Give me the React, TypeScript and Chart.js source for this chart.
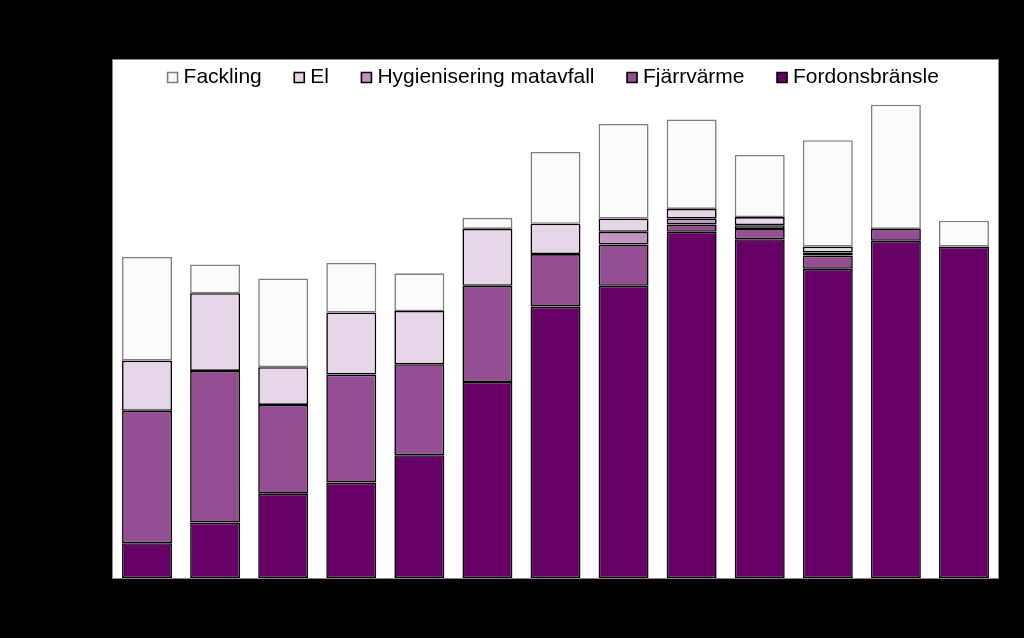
import React, { useEffect, useRef } from "react";
import { Chart, registerables } from "chart.js";

Chart.register(...registerables);

const categories = ["2005", "2006", "2007", "2008", "2009", "2010", "2011", "2012", "2013", "2014", "2015", "2016", "2017"];

const fordonsbransle = [47, 75, 114, 129, 166, 265, 367, 395, 468, 458, 418, 456, 448];
const fjarrvarme = [179, 205, 120, 146, 123, 130, 71, 56, 10, 14, 18, 16, 0];
const hygienisering = [0, 0, 0, 0, 0, 0, 0, 17, 8, 5, 4, 0, 0];
const el = [68, 105, 51, 84, 72, 77, 41, 18, 13, 11, 8, 0, 0];
const fackling = [140, 39, 120, 67, 51, 15, 97, 128, 121, 84, 144, 168, 35];

const Y_MAX = 649;

const plotBackground = {
  id: "plotBackground",
  beforeDraw(chart: any) {
    const { ctx, chartArea } = chart;
    ctx.save();
    ctx.fillStyle = "#000000";
    ctx.fillRect(0, 0, chart.width, chart.height);
    const top = 60;
    ctx.fillStyle = "#ffffff";
    ctx.fillRect(chartArea.left, top, chartArea.right - chartArea.left, chartArea.bottom - top);
    ctx.strokeStyle = "#8a8a8a";
    ctx.lineWidth = 1;
    ctx.strokeRect(chartArea.left - 0.5, top - 0.5, chartArea.right - chartArea.left + 1, chartArea.bottom - top + 1);
    ctx.restore();
  },
};

export default function App() {
  const ref = useRef<HTMLCanvasElement>(null);

  useEffect(() => {
    document.body.style.margin = "0";
    document.body.style.background = "#000";
    const canvas = ref.current;
    if (!canvas) return;
    const mk = (label: string, data: number[], bg: string, border: string) => ({
      label,
      data,
      backgroundColor: bg,
      borderColor: border,
      borderWidth: 1.6,
      borderSkipped: false as const,
      pointStyle: "rect" as const,
    });
    const chart = new Chart(canvas, {
      type: "bar",
      data: {
        labels: categories,
        datasets: [
          mk("Fordonsbränsle", fordonsbransle, "#660066", "#000000"),
          mk("Fjärrvärme", fjarrvarme, "#944e92", "#000000"),
          mk("Hygienisering matavfall", hygienisering, "#c393c1", "#000000"),
          mk("El", el, "#e7d6e7", "#000000"),
          mk("Fackling", fackling, "#fbfbfb", "#7f7f7f"),
        ],
      },
      options: {
        responsive: false,
        animation: false,
        devicePixelRatio: 1,
        layout: { padding: { left: 113, right: 26, top: 30, bottom: 60 } },
        datasets: { bar: { categoryPercentage: 1, barPercentage: 0.734 } },
        scales: {
          x: { stacked: true, display: false, offset: true, grid: { display: false } },
          y: { stacked: true, display: false, min: 0, max: Y_MAX, grid: { display: false } },
        },
        plugins: {
          legend: {
            display: true,
            position: "top",
            reverse: true,
            labels: {
              usePointStyle: true,
              boxWidth: 1,
              boxHeight: 10,
              padding: 37,
              color: "#000000",
              font: { family: "'Liberation Sans', Arial, sans-serif", size: 21 },
            },
          },
          tooltip: { enabled: false },
        },
      },
      plugins: [plotBackground],
    });
    return () => chart.destroy();
  }, []);

  return (
    <div style={{ width: 1024, height: 638, background: "#000" }}>
      <canvas ref={ref} width={1024} height={638} style={{ display: "block" }} />
    </div>
  );
}
